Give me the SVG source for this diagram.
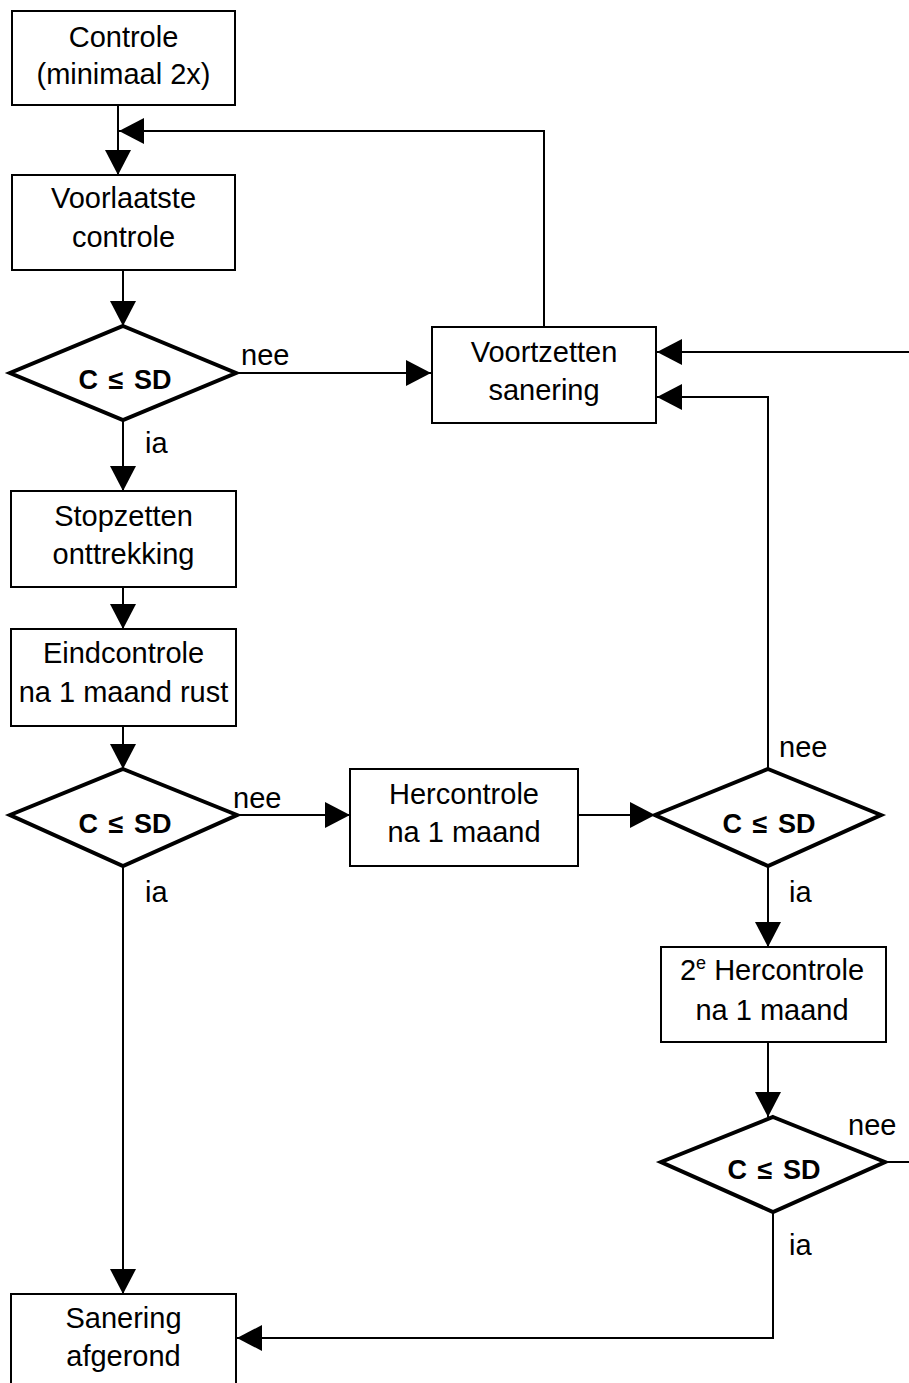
<svg xmlns="http://www.w3.org/2000/svg" width="909" height="1383" viewBox="0 0 909 1383">
<style>
.box{fill:#fff;stroke:#000;stroke-width:2}
.dia{fill:#fff;stroke:#000;stroke-width:4;stroke-linejoin:miter}
.t{font-family:"Liberation Sans",Arial,sans-serif;font-size:29px;fill:#000;text-anchor:middle}
.lbl{font-family:"Liberation Sans",Arial,sans-serif;font-size:29px;fill:#000}
.d{font-family:"Liberation Sans",Arial,sans-serif;font-size:27px;font-weight:bold;fill:#000;text-anchor:middle;word-spacing:3px}
.c{fill:none;stroke:#000;stroke-width:2}
</style>
<defs>
<marker id="arr" markerUnits="userSpaceOnUse" markerWidth="26" markerHeight="26" refX="25" refY="13" orient="auto">
<path d="M0,0 L25,13 L0,26 z" fill="#000"/>
</marker>
</defs>
<rect width="909" height="1383" fill="#fff"/>
<g id="connectors">
<path class="c" d="M118,105 V175" marker-end="url(#arr)"/>
<path class="c" d="M544,327 V131 H119" marker-end="url(#arr)"/>
<path class="c" d="M123,270 V326" marker-end="url(#arr)"/>
<path class="c" d="M236,373 H431" marker-end="url(#arr)"/>
<path class="c" d="M123,420 V491" marker-end="url(#arr)"/>
<path class="c" d="M123,587 V629" marker-end="url(#arr)"/>
<path class="c" d="M123,726 V769" marker-end="url(#arr)"/>
<path class="c" d="M238,815 H350" marker-end="url(#arr)"/>
<path class="c" d="M578,815 H655" marker-end="url(#arr)"/>
<path class="c" d="M768,769 V397 H657" marker-end="url(#arr)"/>
<path class="c" d="M909,352 H657" marker-end="url(#arr)"/>
<path class="c" d="M768,866 V947" marker-end="url(#arr)"/>
<path class="c" d="M768,1042 V1117" marker-end="url(#arr)"/>
<path class="c" d="M885,1162 H909"/>
<path class="c" d="M773,1212 V1338 H237" marker-end="url(#arr)"/>
<path class="c" d="M123,866 V1294" marker-end="url(#arr)"/>
<text class="lbl" x="241" y="365">nee</text>
<text class="lbl" x="145" y="453">ia</text>
<text class="lbl" x="233" y="808">nee</text>
<text class="lbl" x="145" y="902">ia</text>
<text class="lbl" x="779" y="757">nee</text>
<text class="lbl" x="789" y="902">ia</text>
<text class="lbl" x="848" y="1135">nee</text>
<text class="lbl" x="789" y="1255">ia</text>
</g>
<g id="controle">
<rect class="box" x="12" y="11" width="223" height="94"/>
<text class="t" x="123.5" y="47">Controle</text>
<text class="t" x="123.5" y="84">(minimaal 2x)</text>
</g>
<g id="voorlaatste">
<rect class="box" x="12" y="175" width="223" height="95"/>
<text class="t" x="123.5" y="208">Voorlaatste</text>
<text class="t" x="123.5" y="247">controle</text>
</g>
<g id="beslissing1">
<polygon class="dia" points="123,326 236,373 123,420 10,373"/>
<text class="d" x="125" y="389">C ≤ SD</text>
</g>
<g id="voortzetten">
<rect class="box" x="432" y="327" width="224" height="96"/>
<text class="t" x="544" y="362">Voortzetten</text>
<text class="t" x="544" y="400">sanering</text>
</g>
<g id="stopzetten">
<rect class="box" x="11" y="491" width="225" height="96"/>
<text class="t" x="123.5" y="526">Stopzetten</text>
<text class="t" x="123.5" y="564">onttrekking</text>
</g>
<g id="eindcontrole">
<rect class="box" x="11" y="629" width="225" height="97"/>
<text class="t" x="123.5" y="663">Eindcontrole</text>
<text class="t" x="123.5" y="702">na 1 maand rust</text>
</g>
<g id="beslissing2">
<polygon class="dia" points="123,769 237,815 123,866 10,815"/>
<text class="d" x="125" y="833">C ≤ SD</text>
</g>
<g id="hercontrole">
<rect class="box" x="350" y="769" width="228" height="97"/>
<text class="t" x="464" y="804">Hercontrole</text>
<text class="t" x="464" y="842">na 1 maand</text>
</g>
<g id="beslissing3">
<polygon class="dia" points="768,769 881,815 768,866 655,815"/>
<text class="d" x="769" y="833">C ≤ SD</text>
</g>
<g id="hercontrole2">
<rect class="box" x="661" y="947" width="225" height="95"/>
<text class="t" x="772" y="980">2<tspan font-size="18" dy="-11">e</tspan><tspan dy="11"> Hercontrole</tspan></text>
<text class="t" x="772" y="1020">na 1 maand</text>
</g>
<g id="beslissing4">
<polygon class="dia" points="773,1117 885,1162 773,1212 661,1162"/>
<text class="d" x="774" y="1179">C ≤ SD</text>
</g>
<g id="afgerond">
<rect class="box" x="11" y="1294" width="225" height="96"/>
<text class="t" x="123.5" y="1328">Sanering</text>
<text class="t" x="123.5" y="1366">afgerond</text>
</g>
</svg>
